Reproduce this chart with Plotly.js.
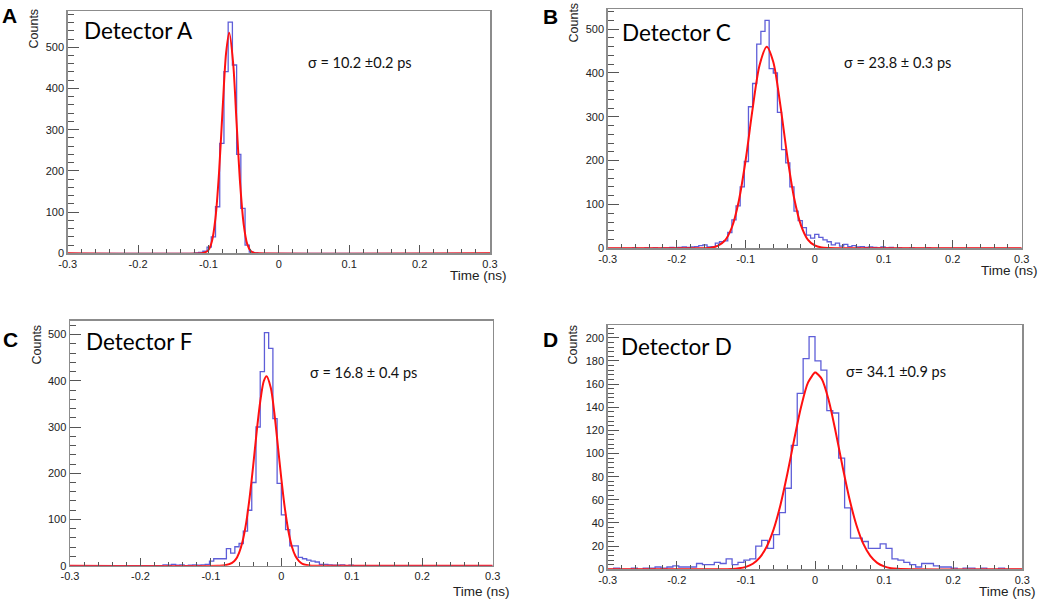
<!DOCTYPE html>
<html>
<head>
<meta charset="utf-8">
<script src="https://cdn.plot.ly/plotly-3.0.1.min.js"></script>
<style>html,body{margin:0;padding:0;background:#fff;}#chart{width:1052px;height:601px;}</style>
</head>
<body>
<div id="chart"></div>
<script>
// ---------- DATA ----------
// Histogram bins span -0.3 .. 0.3 ns
const histRange = [-0.3, 0.3];

// Detector A (100 bins of 0.006 ns)
const countsA = [
  0,0,0,0,0,0,0,0,0,0, 0,0,0,0,0,0,0,0,0,0,
  0,0,0,0,0,0,0,0,0,0, 1,2,5,15,40,113,267,441,561,457,
  240,109,20,3,1,0,0,0,0,0, 0,0,0,0,0,0,0,0,0,0,
  0,0,0,0,0,0,0,0,0,0, 0,0,0,0,0,0,0,0,0,0,
  0,0,0,0,0,0,0,0,0,0, 0,0,0,0,0,0,0,0,0,0
];
// Detector C (100 bins)
const countsC = [
  0,0,0,0,0,0,1,0,0,1, 0,1,0,1,1,2,1,2,3,2,
  3,4,6,8,3,4,12,15,17,36, 65,97,140,198,323,376,466,495,520,410,
  400,310,225,195,140,85,63,47,30,23, 32,25,19,15,8,12,5,9,4,6,
  3,4,2,3,2,1,3,1,2,0, 1,0,0,1,0,0,0,1,0,0,
  0,0,0,0,0,0,0,0,0,0, 0,0,0,0,0,0,0,0,0,0
];
// Detector F (100 bins)
const countsF = [
  0,0,0,0,0,0,0,0,0,0, 0,0,0,0,0,0,0,0,0,0,
  0,0,2,1,3,1,2,0,1,2, 1,2,3,10,15,15,15,37,27,41,
  48,75,120,180,300,420,504,470,318,178, 110,78,43,43,18,15,12,10,8,3,
  3,2,1,1,2,0,1,0,0,0, 0,0,0,0,0,0,0,0,0,0,
  0,0,0,0,0,0,0,0,0,0, 0,0,0,0,0,0,0,0,0,0
];
// Detector D (70 bins)
const countsD = [
  0,1,0,0,1,0,1,1,2,1, 2,3,2,2,2,5,4,4,6,5,
  9,4,6,8,9,20,25,18,30,49, 70,107,152,182,201,180,172,137,135,96,
  53,27,27,24,18,18,22,18,9,8, 6,4,2,5,5,3,2,2,1,0,
  1,1,0,1,0,0,1,0,0,0
];

// Gaussian fit curves
const fitA_x = [-0.3,-0.11,-0.105,-0.1,-0.095,-0.09,-0.085,-0.08,-0.075,-0.0705,-0.065,-0.06,-0.055,-0.05,-0.045,-0.04,-0.035,-0.03,0.3];
const fitA_y = [0,0,2,8,30,86,195,347,485,535,463,315,169,71,23,6,1,0,0];

const fitC_x = [-0.3,-0.17,-0.16,-0.15,-0.14,-0.13,-0.12,-0.11,-0.10,-0.09,-0.08,-0.0695,-0.06,-0.05,-0.04,-0.03,-0.02,-0.01,0.0,0.01,0.02,0.03,0.3];
const fitC_y = [0,0,0.3,1.5,6,18,48,108,202,318,417,460,425,329,213,116,53,20,6.5,1.7,0.4,0,0];

const fitF_x = [-0.3,-0.09,-0.08,-0.07,-0.065,-0.06,-0.055,-0.05,-0.045,-0.04,-0.035,-0.03,-0.025,-0.021,-0.015,-0.01,-0.005,0.0,0.005,0.01,0.015,0.02,0.025,0.03,0.04,0.05,0.3];
const fitF_y = [0,0,0.9,6,13,28,53,92,148,216,290,355,399,410,385,331,260,188,124,75,41,21,10,4,0.6,0,0];

const fitD_x = [-0.3,-0.16,-0.14,-0.12,-0.11,-0.10,-0.09,-0.08,-0.07,-0.06,-0.05,-0.04,-0.03,-0.02,-0.01,0.0,0.001,0.01,0.02,0.03,0.04,0.05,0.06,0.07,0.08,0.09,0.10,0.11,0.12,0.14,0.3];
const fitD_y = [0,0,0.03,0.3,0.9,2.1,4.8,10.1,19.5,34.3,55.6,82.5,112.5,140.6,161.4,170,170,164.2,145.6,118.4,88.4,60.5,38.1,21.9,11.6,5.6,2.5,1.0,0.4,0,0];

// Axis tick labels
const xTickVals = [-0.3,-0.2,-0.1,0,0.1,0.2,0.3];
const xTickText = ["-0.3","-0.2","-0.1","0","0.1","0.2","0.3"];

const panelLetters = ["A","B","C","D"];
const detectorNames = ["Detector A","Detector C","Detector F","Detector D"];
const sigmaTexts = ["σ = 10.2 ±0.2 ps","σ = 23.8 ± 0.3 ps","σ = 16.8 ± 0.4 ps","σ= 34.1 ±0.9 ps"];
const yMax = [588, 546, 530, 211];
const yDtick = [100, 100, 100, 20];
const yMinor = [20, 20, 20, 4];

// ---------- BUILD ----------
function stepTrace(counts, xa, ya) {
  const n = counts.length, w = (histRange[1]-histRange[0])/n;
  const xs = [histRange[0]], ys = [0];
  for (let k = 0; k < n; k++) { xs.push(histRange[0] + k*w); ys.push(counts[k]); }
  xs.push(histRange[1]); ys.push(counts[n-1]);
  return {x: xs, y: ys, type:'scatter', mode:'lines', line:{shape:'hv', color:'#5e5ed8', width:1.3},
          xaxis:xa, yaxis:ya, hoverinfo:'skip', showlegend:false};
}
function fitTrace(xs, ys, xa, ya) {
  return {x: xs, y: ys, type:'scatter', mode:'lines', line:{shape:'spline', smoothing:0.8, color:'#ff1010', width:2},
          xaxis:xa, yaxis:ya, hoverinfo:'skip', showlegend:false};
}

const data = [
  stepTrace(countsA,'x','y'),  fitTrace(fitA_x, fitA_y,'x','y'),
  stepTrace(countsC,'x2','y2'), fitTrace(fitC_x, fitC_y,'x2','y2'),
  stepTrace(countsF,'x3','y3'), fitTrace(fitF_x, fitF_y,'x3','y3'),
  stepTrace(countsD,'x4','y4'), fitTrace(fitD_x, fitD_y,'x4','y4')
];

const W = 1052, H = 601;
const px = v => v / W, py = v => 1 - v / H;

// frame pixel boxes [left, right, top, bottom]
const boxes = [
  [67.7, 490, 11, 253.3],
  [607.7, 1021.7, 9, 248.3],
  [70, 492.7, 320.7, 565.7],
  [607.7, 1022.3, 325, 569.3]
];

const tickFont = {family:'Liberation Sans, Arial, sans-serif', size:11, color:'#222'};
const layout = {
  width: W, height: H, margin:{l:0,r:0,t:0,b:0},
  paper_bgcolor:'#fff', plot_bgcolor:'#fff', showlegend:false,
  annotations: [], font:{family:'Liberation Sans, Arial, sans-serif'}
};

boxes.forEach((b, i) => {
  const sfx = i === 0 ? '' : String(i+1);
  layout['xaxis'+sfx] = {
    domain:[px(b[0]), px(b[1])], range:histRange, anchor:'y'+sfx,
    tickvals:xTickVals, ticktext:xTickText, ticks:'inside', ticklen:8, tickwidth:1, tickcolor:'#555',
    minor:{dtick:0.02, ticks:'inside', ticklen:4, tickcolor:'#555', tickwidth:1},
    showline:true, linecolor:'#8c8c8c', linewidth:1.5, mirror:true, showgrid:false, zeroline:false,
    tickfont:tickFont, fixedrange:true
  };
  layout['yaxis'+sfx] = {
    domain:[py(b[3]), py(b[2])], range:[0, yMax[i]], anchor:'x'+sfx,
    dtick:yDtick[i], tick0:0, ticks:'inside', ticklen:11, tickwidth:1, tickcolor:'#555',
    minor:{dtick:yMinor[i], ticks:'inside', ticklen:6, tickcolor:'#555', tickwidth:1},
    showline:true, linecolor:'#8c8c8c', linewidth:1.5, mirror:true, showgrid:false, zeroline:false,
    tickfont:tickFont, fixedrange:true
  };
});

// text placement (pixel positions)
const letterPos = [[9.5,16],[550.5,17],[10,339],[550.5,339]];
const countsPos = [[33.5,29],[573.5,23],[36.5,345],[572.5,345]];
const detPos = [[82,30.5],[620,33],[84,341.5],[619,346.5]];
const sigPos = [[306,62],[842,62.5],[308,372.5],[844,371]];
const timePos = [[509,275],[1040,270],[512,591.5],[1038,591.5]];

for (let i = 0; i < 4; i++) {
  layout.annotations.push(
    {text:panelLetters[i], x:px(letterPos[i][0]), y:py(letterPos[i][1]), xref:'paper', yref:'paper',
     xanchor:'center', yanchor:'middle', showarrow:false,
     font:{family:'Liberation Sans, Arial, sans-serif', size:21, color:'#000', weight:'bold'}},
    {text:'Counts', x:px(countsPos[i][0]), y:py(countsPos[i][1]), xref:'paper', yref:'paper',
     xanchor:'center', yanchor:'middle', textangle:-90, showarrow:false,
     font:{family:'Liberation Sans, Arial, sans-serif', size:12.5, color:'#222'}},
    {text:detectorNames[i], x:px(detPos[i][0]), y:py(detPos[i][1]), xref:'paper', yref:'paper',
     xanchor:'left', yanchor:'middle', showarrow:false,
     font:{family:'Lato, Open Sans, sans-serif', size:22.5, color:'#000'}},
    {text:sigmaTexts[i], x:px(sigPos[i][0]), y:py(sigPos[i][1]), xref:'paper', yref:'paper',
     xanchor:'left', yanchor:'middle', showarrow:false,
     font:{family:'Lato, Open Sans, sans-serif', size:14.5, color:'#111'}},
    {text:'Time (ns)', x:px(timePos[i][0]), y:py(timePos[i][1]), xref:'paper', yref:'paper',
     xanchor:'right', yanchor:'middle', showarrow:false,
     font:{family:'Liberation Sans, Arial, sans-serif', size:13.5, color:'#222'}}
  );
}

Plotly.newPlot('chart', data, layout, {staticPlot:true, displayModeBar:false});
</script>
</body>
</html>
